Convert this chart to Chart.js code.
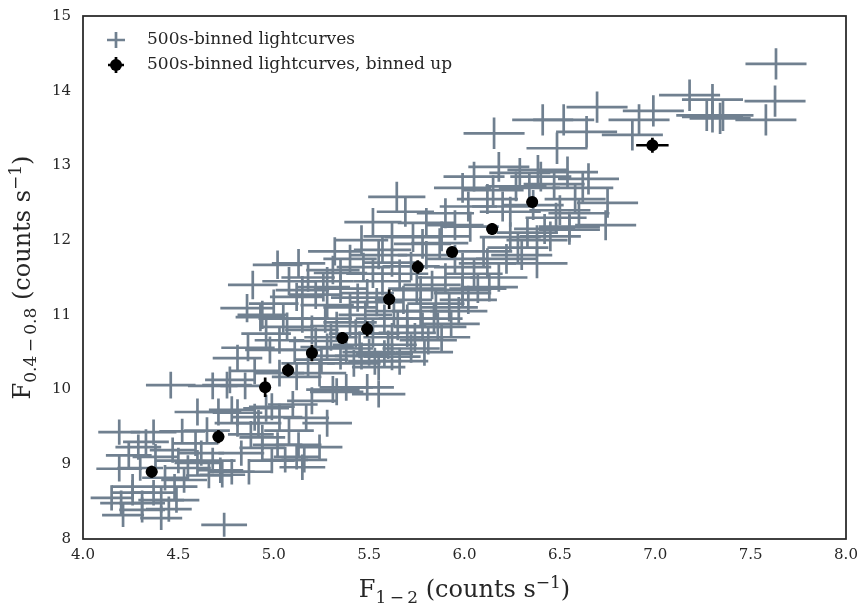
<!DOCTYPE html>
<html>
<head>
<meta charset="utf-8">
<script src="https://cdn.jsdelivr.net/npm/chart.js@4/dist/chart.umd.min.js"></script>
<style>
  html, body { margin: 0; padding: 0; background: #ffffff; }
  #wrap { width: 861px; height: 607px; }
</style>
</head>
<body>
<div id="wrap"><canvas id="c" width="861" height="607"></canvas></div>
<script>
// ---- Data ----
const greyLabel = '500s-binned lightcurves';
const binLabel = '500s-binned lightcurves, binned up';

const greyX = [
  4.19, 4.37, 4.52, 4.19, 4.26, 4.21, 4.31, 4.41, 4.49, 4.74,
  4.60, 4.72, 4.78, 4.87, 4.94, 5.02, 5.12, 5.15, 5.24, 5.03,
  5.17, 4.99, 4.60, 4.81, 4.29, 4.47, 4.59, 4.62, 4.43, 4.48,
  4.53, 4.41, 4.26, 4.20, 4.31, 4.73, 4.71, 4.78, 4.96, 4.94,
  5.13, 5.16, 5.06, 4.81, 4.90, 4.24, 4.46,
  4.89, 4.86, 5.02, 5.13, 5.31, 5.35, 5.12, 5.22, 4.93, 5.07,
  4.865, 4.81, 4.755, 4.94, 5.28, 5.15, 5.26, 5.44, 5.49, 5.54,
  5.03, 4.98, 5.11, 5.28, 5.03, 5.12, 5.31, 5.38, 5.49, 5.55,
  4.77, 5.33, 5.81, 5.86, 5.99, 5.78, 5.70, 5.62,
  5.20, 5.25, 5.30, 5.35, 5.40, 5.42, 5.45, 5.48, 5.50, 5.52,
  5.55, 5.58, 5.60, 5.63, 5.65, 5.68, 5.72, 5.75, 5.40, 5.33,
  5.57, 5.66, 5.52, 5.35, 5.77, 5.83, 5.90, 5.85, 5.95, 5.92,
  6.05, 6.10, 5.80, 5.72, 5.47, 5.40, 5.52, 5.69, 5.90, 5.80,
  5.57, 5.73, 5.87, 6.03, 6.24, 6.38, 6.45, 6.55, 5.99, 6.12,
  6.38, 5.99, 6.13, 5.77, 5.645, 6.18, 5.99, 6.15, 6.27, 6.29,
  6.385, 6.54, 6.65, 6.75, 6.74, 6.60, 6.55, 6.30, 6.48, 6.20,
  6.34, 6.24, 6.36, 6.05,
  6.155, 6.41, 6.52, 6.485, 6.64, 6.695, 6.88, 6.915, 6.99, 7.18,
  7.30, 7.27, 7.30, 7.355, 7.34, 7.58, 7.628, 7.633,
  5.15, 5.22, 5.27, 5.18, 5.24, 5.38, 5.43, 5.46, 5.53, 5.58,
  5.62, 5.66, 5.70, 5.74, 5.79, 5.84, 5.88, 5.93, 5.97, 6.02,
  6.07, 6.18, 6.22, 6.28, 6.33, 6.42, 6.50, 6.58, 6.62, 6.47,
  6.40, 6.12, 6.02, 5.95, 5.88, 5.78, 5.62, 5.55, 5.62, 5.46,
  5.32, 5.28, 5.18, 5.08, 5.00, 5.05, 4.96, 4.90, 4.85, 4.68,
  4.33, 4.38, 4.50, 4.55, 4.66, 4.68, 4.83, 4.88, 4.92, 5.08,
  5.10, 5.20, 4.37, 4.45, 4.30, 4.15, 4.65, 4.99, 5.28
];
const greyY = [
  9.43, 9.43, 9.44, 8.94, 8.70, 8.32, 8.48, 8.28, 8.52, 8.19,
  9.02, 8.92, 8.90, 8.90, 9.22, 9.26, 9.10, 8.96, 9.23, 9.63,
  9.62, 9.77, 9.70, 9.69, 9.23, 9.19, 9.28, 9.15, 8.82, 8.70,
  8.79, 8.52, 8.62, 8.48, 8.39, 8.86, 9.70, 9.73, 9.75, 9.36,
  9.26, 9.06, 9.06, 9.55, 9.63, 9.12, 10.06,
  11.40, 11.09, 11.67, 11.69, 11.60, 11.56, 11.24, 11.27, 10.97, 10.84,
  10.56, 10.42, 10.06, 11.00, 11.13, 11.33, 11.37, 11.23, 11.29, 11.17,
  10.66, 10.53, 10.53, 10.57, 10.22, 10.17, 10.00, 10.03, 10.03, 9.94,
  10.13, 9.97, 10.66, 10.84, 11.29, 10.84, 10.76, 10.44,
  10.80, 10.40, 10.70, 10.45, 10.90, 10.35, 10.60, 11.00, 10.50, 10.75,
  10.30, 10.95, 10.60, 11.05, 10.85, 11.20, 10.55, 11.35, 11.10, 10.85,
  11.45, 11.55, 11.55, 11.35, 11.05, 11.40, 11.50, 11.15, 11.75, 11.10,
  11.55, 11.85, 11.80, 11.65, 11.64, 11.75, 12.24, 12.38, 12.36, 12.23,
  11.87, 12.04, 11.96, 12.18, 12.04, 12.00, 12.05, 12.18, 11.64, 11.69,
  11.69, 11.33, 11.37, 11.33, 12.58, 12.98, 12.70, 12.67, 12.72, 12.90,
  12.94, 12.91, 12.82, 12.50, 12.20, 12.36, 12.14, 11.80, 12.30, 12.45,
  12.70, 12.38, 12.47, 12.85,
  13.43, 13.61, 13.61, 13.23, 13.45, 13.78, 13.41, 13.61, 13.73, 13.94,
  13.88, 13.67, 13.65, 13.67, 13.63, 13.61, 13.86, 14.36,
  10.95, 10.65, 10.95, 10.35, 10.22, 10.55, 10.75, 10.45, 10.38, 10.48,
  10.70, 10.38, 10.95, 10.70, 10.50, 10.95, 10.70, 10.88, 11.05, 11.20,
  11.35, 11.50, 11.75, 11.90, 12.10, 12.15, 12.40, 12.55, 12.70, 12.75,
  12.85, 12.55, 12.45, 12.20, 12.05, 11.95, 11.70, 11.80, 12.05, 12.00,
  11.85, 11.45, 11.50, 11.45, 11.15, 10.95, 10.75, 10.25, 10.05, 10.05,
  9.30, 9.10, 9.05, 8.95, 8.85, 9.05, 9.15, 9.40, 9.55, 9.45,
  9.80, 9.85, 8.62, 8.40, 8.95, 8.55, 9.45, 9.05, 9.55
];
const greyXErr = [
  0.11, 0.12, 0.12, 0.12, 0.11, 0.11, 0.12, 0.11, 0.12, 0.12,
  0.12, 0.12, 0.12, 0.12, 0.12, 0.13, 0.12, 0.12, 0.12, 0.12,
  0.12, 0.12, 0.12, 0.13, 0.12, 0.12, 0.12, 0.12, 0.12, 0.12,
  0.12, 0.12, 0.11, 0.11, 0.12, 0.12, 0.12, 0.12, 0.12, 0.12,
  0.12, 0.12, 0.12, 0.12, 0.12, 0.12, 0.13,
  0.13, 0.14, 0.13, 0.14, 0.14, 0.14, 0.14, 0.14, 0.13, 0.14,
  0.14, 0.13, 0.13, 0.13, 0.14, 0.14, 0.14, 0.14, 0.14, 0.14,
  0.13, 0.13, 0.14, 0.14, 0.13, 0.13, 0.14, 0.14, 0.14, 0.14,
  0.13, 0.14, 0.15, 0.15, 0.15, 0.15, 0.15, 0.15,
  0.14, 0.14, 0.14, 0.14, 0.14, 0.14, 0.14, 0.14, 0.14, 0.14,
  0.14, 0.15, 0.15, 0.15, 0.15, 0.15, 0.15, 0.15, 0.14, 0.14,
  0.15, 0.15, 0.14, 0.14, 0.15, 0.15, 0.15, 0.15, 0.15, 0.15,
  0.15, 0.15, 0.15, 0.15, 0.14, 0.14, 0.15, 0.15, 0.15, 0.15,
  0.15, 0.15, 0.15, 0.15, 0.16, 0.16, 0.16, 0.16, 0.15, 0.15,
  0.16, 0.15, 0.15, 0.15, 0.15, 0.16, 0.15, 0.16, 0.16, 0.16,
  0.16, 0.16, 0.16, 0.16, 0.16, 0.16, 0.16, 0.16, 0.16, 0.16,
  0.16, 0.16, 0.16, 0.16,
  0.16, 0.16, 0.16, 0.16, 0.16, 0.16, 0.16, 0.16, 0.16, 0.16,
  0.16, 0.16, 0.16, 0.16, 0.16, 0.16, 0.16, 0.16,
  0.14, 0.14, 0.14, 0.14, 0.14, 0.14, 0.14, 0.14, 0.14, 0.15,
  0.15, 0.15, 0.15, 0.15, 0.15, 0.15, 0.15, 0.15, 0.15, 0.15,
  0.15, 0.15, 0.16, 0.16, 0.16, 0.16, 0.16, 0.16, 0.16, 0.16,
  0.16, 0.16, 0.15, 0.15, 0.15, 0.15, 0.15, 0.15, 0.15, 0.14,
  0.14, 0.14, 0.14, 0.14, 0.13, 0.13, 0.13, 0.13, 0.13, 0.13,
  0.12, 0.12, 0.12, 0.12, 0.12, 0.12, 0.12, 0.12, 0.12, 0.13,
  0.13, 0.13, 0.12, 0.12, 0.12, 0.11, 0.12, 0.12, 0.13
];
const greyYErr = [
  0.17, 0.17, 0.17, 0.17, 0.17, 0.16, 0.17, 0.16, 0.17, 0.16,
  0.17, 0.17, 0.17, 0.17, 0.17, 0.17, 0.17, 0.17, 0.17, 0.18,
  0.18, 0.18, 0.18, 0.18, 0.17, 0.17, 0.17, 0.17, 0.17, 0.17,
  0.17, 0.17, 0.17, 0.17, 0.17, 0.17, 0.18, 0.18, 0.18, 0.17,
  0.17, 0.17, 0.17, 0.18, 0.18, 0.17, 0.18,
  0.19, 0.19, 0.19, 0.19, 0.19, 0.19, 0.19, 0.19, 0.19, 0.19,
  0.18, 0.18, 0.18, 0.19, 0.19, 0.19, 0.19, 0.19, 0.19, 0.19,
  0.18, 0.18, 0.18, 0.18, 0.18, 0.18, 0.18, 0.18, 0.18, 0.18,
  0.18, 0.18, 0.19, 0.19, 0.19, 0.19, 0.19, 0.18,
  0.19, 0.18, 0.18, 0.18, 0.19, 0.18, 0.18, 0.19, 0.18, 0.19,
  0.18, 0.19, 0.19, 0.19, 0.19, 0.19, 0.19, 0.19, 0.19, 0.19,
  0.19, 0.19, 0.19, 0.19, 0.19, 0.19, 0.19, 0.19, 0.19, 0.19,
  0.20, 0.20, 0.19, 0.19, 0.19, 0.19, 0.19, 0.20, 0.20, 0.20,
  0.19, 0.20, 0.20, 0.20, 0.20, 0.20, 0.20, 0.20, 0.19, 0.20,
  0.20, 0.19, 0.19, 0.19, 0.20, 0.20, 0.20, 0.20, 0.20, 0.20,
  0.20, 0.21, 0.21, 0.20, 0.20, 0.20, 0.20, 0.20, 0.20, 0.20,
  0.20, 0.20, 0.20, 0.20,
  0.21, 0.21, 0.21, 0.21, 0.21, 0.21, 0.21, 0.21, 0.21, 0.21,
  0.21, 0.21, 0.21, 0.21, 0.21, 0.21, 0.21, 0.21,
  0.19, 0.18, 0.19, 0.18, 0.18, 0.18, 0.19, 0.18, 0.18, 0.18,
  0.19, 0.18, 0.19, 0.19, 0.18, 0.19, 0.19, 0.19, 0.19, 0.19,
  0.19, 0.19, 0.20, 0.20, 0.20, 0.20, 0.20, 0.20, 0.20, 0.20,
  0.20, 0.20, 0.20, 0.20, 0.20, 0.20, 0.19, 0.19, 0.20, 0.20,
  0.19, 0.19, 0.19, 0.19, 0.19, 0.19, 0.18, 0.18, 0.18, 0.18,
  0.17, 0.17, 0.17, 0.17, 0.17, 0.17, 0.17, 0.18, 0.18, 0.18,
  0.18, 0.18, 0.17, 0.17, 0.17, 0.17, 0.18, 0.17, 0.18
];

const binX = [4.36, 4.71, 4.955, 5.075, 5.20, 5.36, 5.49, 5.605, 5.755, 5.935, 6.145, 6.355, 6.985];
const binY = [8.90, 9.37, 10.03, 10.26, 10.49, 10.69, 10.81, 11.21, 11.64, 11.84, 12.15, 12.51, 13.27];
const binXErr = [0.03, 0.03, 0.03, 0.03, 0.03, 0.03, 0.03, 0.03, 0.03, 0.03, 0.03, 0.03, 0.085];
const binYErr = [0.08, 0.09, 0.13, 0.09, 0.11, 0.08, 0.10, 0.13, 0.09, 0.07, 0.08, 0.07, 0.10];

const xTickValues = [4.0, 4.5, 5.0, 5.5, 6.0, 6.5, 7.0, 7.5, 8.0];
const yTickValues = [8, 9, 10, 11, 12, 13, 14, 15];

// ---- styling ----
const GREY = '#708090';
const TEXT = '#262626';
const SERIF = '"DejaVu Serif", serif';

const greyPoints = greyX.map((x, i) => ({ x: x, y: greyY[i], xe: greyXErr[i], ye: greyYErr[i] }));
const binPoints = binX.map((x, i) => ({ x: x, y: binY[i], xe: binXErr[i], ye: binYErr[i] }));

const errorBars = {
  id: 'errorBars',
  beforeDatasetDraw(chart, args) {
    const ds = chart.data.datasets[args.index];
    const xs = chart.scales.x, ys = chart.scales.y;
    const ctx = chart.ctx;
    ctx.save();
    ctx.strokeStyle = ds.errColor;
    ctx.lineWidth = ds.errWidth;
    ctx.lineCap = 'butt';
    ds.data.forEach(p => {
      const cx = xs.getPixelForValue(p.x), cy = ys.getPixelForValue(p.y);
      const x0 = xs.getPixelForValue(p.x - p.xe), x1 = xs.getPixelForValue(p.x + p.xe);
      const y0 = ys.getPixelForValue(p.y - p.ye), y1 = ys.getPixelForValue(p.y + p.ye);
      ctx.beginPath();
      ctx.moveTo(x0, cy); ctx.lineTo(x1, cy);
      ctx.moveTo(cx, y0); ctx.lineTo(cx, y1);
      ctx.stroke();
    });
    ctx.restore();
  }
};

function drawRuns(ctx, runs, cx, baseY) {
  let total = 0;
  runs.forEach(r => { ctx.font = r.size + 'px ' + SERIF; r.w = ctx.measureText(r.t).width; total += r.w; });
  let x = cx - total / 2;
  ctx.textAlign = 'left';
  ctx.textBaseline = 'alphabetic';
  runs.forEach(r => { ctx.font = r.size + 'px ' + SERIF; ctx.fillText(r.t, x, baseY + r.dy); x += r.w; });
}

const S = 24, SS = 17;
const titlesAndLegend = {
  id: 'titlesAndLegend',
  afterDraw(chart) {
    const ctx = chart.ctx;
    const xs = chart.scales.x, ys = chart.scales.y;
    const L = xs.getPixelForValue(xs.min), R = xs.getPixelForValue(xs.max);
    const T = ys.getPixelForValue(ys.max), B = ys.getPixelForValue(ys.min);
    ctx.save();
    // frame
    ctx.strokeStyle = TEXT;
    ctx.lineWidth = 1.75;
    ctx.strokeRect(L, T, R - L, B - T);
    ctx.fillStyle = TEXT;
    // x title
    drawRuns(ctx, [
      { t: 'F', size: S, dy: 0 },
      { t: '1\u2009\u2212\u20092', size: SS, dy: 6 },
      { t: ' (counts s', size: S, dy: 0 },
      { t: '\u22121', size: SS, dy: -9 },
      { t: ')', size: S, dy: 0 }
    ], (L + R) / 2, 597);
    // y title
    ctx.save();
    ctx.translate(30, (T + B) / 2);
    ctx.rotate(-Math.PI / 2);
    drawRuns(ctx, [
      { t: 'F', size: S, dy: 0 },
      { t: '0.4\u2009\u2212\u20090.8', size: SS, dy: 6 },
      { t: ' (counts s', size: S, dy: 0 },
      { t: '\u22121', size: SS, dy: -9 },
      { t: ')', size: S, dy: 0 }
    ], 0, 0);
    ctx.restore();
    // legend
    const lx = L + 33, ly1 = T + 24, ly2 = T + 49;
    ctx.strokeStyle = GREY; ctx.lineWidth = 2.7;
    ctx.beginPath();
    ctx.moveTo(lx - 9, ly1); ctx.lineTo(lx + 9, ly1);
    ctx.moveTo(lx, ly1 - 8); ctx.lineTo(lx, ly1 + 8);
    ctx.stroke();
    ctx.strokeStyle = '#000'; ctx.lineWidth = 2.7;
    ctx.beginPath();
    ctx.moveTo(lx - 8, ly2); ctx.lineTo(lx + 8, ly2);
    ctx.moveTo(lx, ly2 - 8); ctx.lineTo(lx, ly2 + 8);
    ctx.stroke();
    ctx.fillStyle = '#000';
    ctx.beginPath(); ctx.arc(lx, ly2, 6, 0, Math.PI * 2); ctx.fill();
    ctx.fillStyle = TEXT;
    ctx.font = '17px ' + SERIF;
    ctx.textAlign = 'left';
    ctx.textBaseline = 'middle';
    ctx.fillText(chart.data.datasets[1].label, L + 64, ly1);
    ctx.fillText(chart.data.datasets[0].label, L + 64, ly2);
    ctx.restore();
  }
};

new Chart(document.getElementById('c'), {
  type: 'scatter',
  data: {
    datasets: [
      {
        label: binLabel,
        data: binPoints,
        order: 0,
        pointRadius: 6,
        pointHoverRadius: 6,
        backgroundColor: '#000000',
        borderWidth: 0,
        errColor: '#000000',
        errWidth: 2.7
      },
      {
        label: greyLabel,
        data: greyPoints,
        order: 1,
        pointRadius: 0,
        pointHoverRadius: 0,
        backgroundColor: GREY,
        borderWidth: 0,
        errColor: GREY,
        errWidth: 2.7
      }
    ]
  },
  options: {
    responsive: false,
    animation: false,
    events: [],
    layout: { padding: { left: 0, right: 15, top: 16, bottom: 0 } },
    plugins: { legend: { display: false }, tooltip: { enabled: false } },
    scales: {
      x: {
        type: 'linear', min: 4, max: 8,
        afterBuildTicks: s => { s.ticks = xTickValues.map(v => ({ value: v })); },
        afterFit: s => { s.height = 68; s.paddingLeft = 0; s.paddingRight = 0; },
        grid: { display: false, drawTicks: false },
        border: { display: false },
        ticks: { padding: 7, color: TEXT, font: { family: SERIF, size: 15 }, maxRotation: 0,
                 callback: v => v.toFixed(1) }
      },
      y: {
        type: 'linear', min: 8, max: 15,
        afterBuildTicks: s => { s.ticks = yTickValues.map(v => ({ value: v })); },
        afterFit: s => { s.width = 83; s.paddingTop = 0; s.paddingBottom = 0; },
        grid: { display: false, drawTicks: false },
        border: { display: false },
        ticks: { padding: 12, color: TEXT, font: { family: SERIF, size: 15 },
                 callback: v => String(v) }
      }
    }
  },
  plugins: [errorBars, titlesAndLegend]
});
</script>
</body>
</html>
